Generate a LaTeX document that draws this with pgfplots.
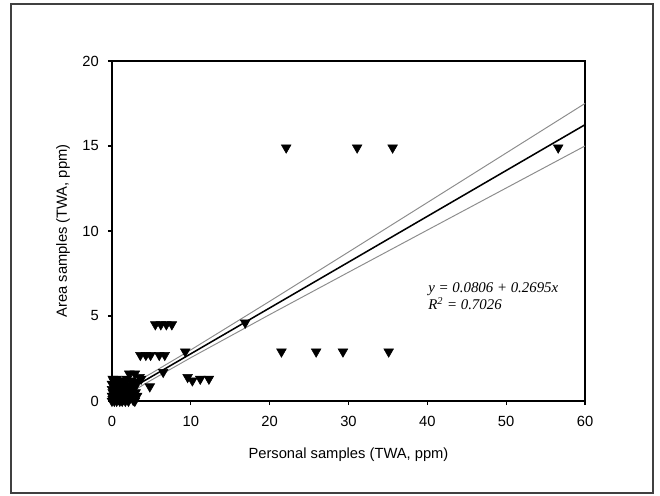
\documentclass[border=0pt]{standalone}
\usepackage{pgfplots}
\pgfplotsset{compat=1.18}
\usepackage{fontspec}
\setmainfont{Liberation Sans}
\newfontfamily\eqfont{Liberation Serif}
\definecolor{cigray}{HTML}{8C8C8C}
\definecolor{framegray}{HTML}{404040}

\begin{document}
\begin{tikzpicture}
  \path[use as bounding box] (0,0) rectangle (475.2pt,356.4pt);
  \draw[framegray, line width=1pt] (7.9pt,1.4pt) rectangle (470.2pt,353.5pt);
  \begin{axis}[
      at={(80.6pt,67.7pt)}, anchor=south west,
      scale only axis,
      width=340.6pt, height=244.8pt,
      xmin=0, xmax=60, ymin=0, ymax=20,
      xtick={0,10,...,60}, ytick={0,5,...,20},
      tick align=outside, tick pos=left,
      major tick length=3pt,
      axis line style={line width=0.8pt},
      every tick/.style={black, line width=0.8pt},
      tick label style={font=\fontsize{10.6}{12}\selectfont},
      xticklabel style={yshift=-4.5pt},
      yticklabel style={xshift=-3pt},
      /pgf/number format/assume math mode=true,
      label style={font=\fontsize{10.6}{12}\selectfont},
      xlabel={Personal samples (TWA, ppm)},
      ylabel={Area samples (TWA, ppm)},
      xlabel style={yshift=-8pt},
      ylabel style={yshift=2pt},
      clip=false,
    ]
    % confidence band
    \addplot[cigray, line width=0.7pt] coordinates {
      (0,0.310) (5,1.628) (10,3.005) (20,5.862) (30,8.761) (40,11.671) (50,14.585) (60,17.501)};
    \addplot[cigray, line width=0.7pt] coordinates {
      (0.6,0.02) (5,1.228) (10,2.547) (20,5.080) (30,7.571) (40,10.051) (50,12.527) (60,15.001)};
    % regression line
    \addplot[black, line width=1.1pt] coordinates {(0,0.0806) (60,16.2506)};
    % samples
    \addplot[only marks, mark=triangle*, mark size=4pt,
             mark options={rotate=180, fill=black, draw=black}] coordinates {
      (22.1,14.9) (31.1,14.9) (35.6,14.9) (56.6,14.9)
      (21.5,2.9) (25.9,2.9) (29.3,2.9) (35.1,2.9)
      (16.9,4.6) (5.5,4.5) (6.2,4.5) (6.9,4.5) (7.6,4.5)
      (9.3,2.9) (3.6,2.7) (4.3,2.7) (4.9,2.7) (6.0,2.7) (6.7,2.7)
      (6.5,1.7) (9.6,1.4) (10.2,1.2) (11.2,1.3) (12.3,1.3)
      (4.8,0.85) (3.5,1.4) (2.9,0.8) (2.7,0.05) (2.9,0.0)
      (2.2,1.6) (2.9,1.6) (1.9,1.3) (2.5,1.2) (3.1,1.1) (3.7,1.3)
      (0.1,0.1) (0.2,0.3) (0.3,0.6) (0.2,0.9) (0.4,1.1) (0.5,0.2)
      (0.6,0.5) (0.7,0.8) (0.8,0.1) (0.9,0.4) (1.0,0.7) (1.1,1.0)
      (1.2,0.2) (1.3,0.5) (0.1,0.5) (0.3,0.0) (0.0,0.7) (0.5,1.0)
      (1.5,0.3) (1.6,0.6) (1.8,0.2) (2.0,0.5) (2.1,0.9) (2.3,0.2)
      (1.4,0.9) (0.8,1.2) (0.2,1.2) (0.6,0.0) (1.0,0.0) (2.5,0.6)
      (3.2,0.3) (0.4,0.4) (1.7,0.0) (2.0,0.1)
      (0.0,0.0) (0.0,0.3) (0.0,1.0) (0.1,1.3) (0.4,0.8) (0.6,1.3)
      (0.9,0.9) (1.2,1.2) (1.3,0.0) (1.5,0.8) (1.7,1.1) (1.9,0.7)
      (2.2,0.4) (2.4,0.9) (2.6,0.3) (1.1,0.3) (0.7,0.2) (0.3,0.3)
      (1.8,0.4) (2.7,1.0) (3.0,0.5) (0.5,0.6) (1.4,0.1) (2.1,0.0)};
    \node[anchor=west, align=left, inner sep=0pt,
          font=\eqfont\itshape\fontsize{10.7}{9.6}\selectfont]
      at (axis cs:40.1,6.15) {y = 0.0806 + 0.2695x\\R\textsuperscript{2} = 0.7026};
  \end{axis}
\end{tikzpicture}
\end{document}
